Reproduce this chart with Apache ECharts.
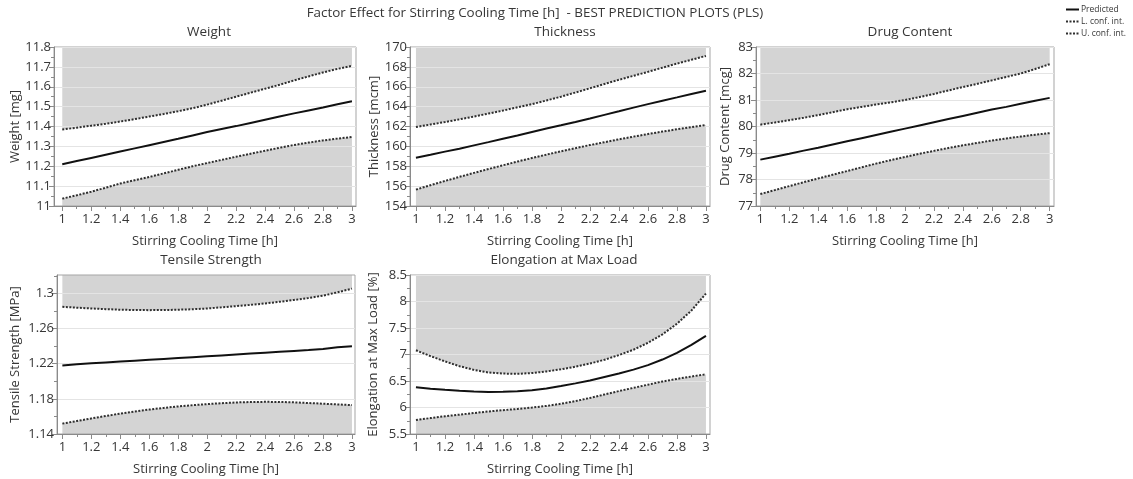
<!DOCTYPE html>
<html>
<head>
<meta charset="utf-8">
<title>Factor Effect for Stirring Cooling Time</title>
<script src="https://cdn.jsdelivr.net/npm/echarts@6.0.0/dist/echarts.min.js"></script>
<style>
  html, body { margin: 0; padding: 0; background: #ffffff; }
  #chart { width: 1133px; height: 479px; }
</style>
</head>
<body>
<div id="chart"></div>
<script>
// Stirring cooling time (h) at which every response is evaluated
const timeH = [1.0, 1.1, 1.2, 1.3, 1.4, 1.5, 1.6, 1.7, 1.8, 1.9, 2.0, 2.1, 2.2, 2.3, 2.4, 2.5, 2.6, 2.7, 2.8, 2.9, 3.0];

// Weight [mg]
const weightPred  = [11.21, 11.226, 11.242, 11.258, 11.274, 11.29, 11.306, 11.322, 11.338, 11.355, 11.372, 11.387, 11.402, 11.418, 11.434, 11.45, 11.466, 11.481, 11.496, 11.512, 11.527];
const weightUpper = [11.385, 11.394, 11.404, 11.414, 11.425, 11.437, 11.45, 11.463, 11.477, 11.492, 11.51, 11.53, 11.55, 11.57, 11.59, 11.61, 11.632, 11.652, 11.672, 11.69, 11.705];
const weightLower = [11.037, 11.054, 11.072, 11.092, 11.113, 11.13, 11.146, 11.164, 11.182, 11.2, 11.216, 11.232, 11.248, 11.263, 11.278, 11.293, 11.307, 11.319, 11.33, 11.339, 11.347];

// Thickness [mcm]
const thickPred  = [158.85, 159.15, 159.47, 159.77, 160.1, 160.43, 160.77, 161.1, 161.45, 161.8, 162.12, 162.45, 162.8, 163.17, 163.53, 163.9, 164.25, 164.6, 164.93, 165.27, 165.6];
const thickUpper = [161.95, 162.2, 162.45, 162.72, 163.0, 163.3, 163.6, 163.93, 164.25, 164.62, 165.0, 165.42, 165.85, 166.28, 166.7, 167.1, 167.5, 167.92, 168.33, 168.72, 169.1];
const thickLower = [155.65, 156.09, 156.52, 156.93, 157.33, 157.72, 158.1, 158.47, 158.83, 159.17, 159.5, 159.82, 160.13, 160.42, 160.71, 160.98, 161.24, 161.49, 161.72, 161.94, 162.15];

// Drug Content [mcg]
const drugPred  = [78.75, 78.86, 78.97, 79.09, 79.2, 79.32, 79.44, 79.56, 79.68, 79.8, 79.92, 80.04, 80.16, 80.28, 80.4, 80.52, 80.64, 80.74, 80.86, 80.97, 81.08];
const drugUpper = [80.07, 80.15, 80.24, 80.33, 80.43, 80.54, 80.65, 80.74, 80.83, 80.91, 81.0, 81.11, 81.23, 81.36, 81.49, 81.61, 81.74, 81.87, 82.0, 82.17, 82.35];
const drugLower = [77.45, 77.6, 77.75, 77.9, 78.04, 78.18, 78.32, 78.46, 78.6, 78.73, 78.85, 78.97, 79.08, 79.19, 79.29, 79.38, 79.47, 79.55, 79.62, 79.69, 79.75];

// Tensile Strength [MPa]
const tensilePred  = [1.218, 1.2195, 1.2205, 1.2215, 1.2225, 1.2235, 1.2245, 1.2255, 1.2265, 1.2275, 1.2285, 1.2295, 1.2305, 1.2315, 1.2325, 1.2335, 1.2345, 1.2355, 1.2368, 1.2388, 1.2398];
const tensileUpper = [1.2848, 1.2838, 1.2829, 1.2821, 1.2815, 1.2811, 1.281, 1.2811, 1.2815, 1.282, 1.2829, 1.2842, 1.2856, 1.287, 1.2886, 1.2905, 1.2926, 1.2948, 1.2975, 1.3013, 1.3055];
const tensileLower = [1.1518, 1.1548, 1.1577, 1.1605, 1.1632, 1.1656, 1.1678, 1.1697, 1.1714, 1.1728, 1.174, 1.1751, 1.1759, 1.1764, 1.1766, 1.1765, 1.176, 1.1753, 1.1745, 1.1737, 1.1729];

// Elongation at Max Load [%]
const elongPred  = [6.38, 6.355, 6.335, 6.318, 6.303, 6.292, 6.295, 6.305, 6.325, 6.36, 6.405, 6.455, 6.51, 6.575, 6.64, 6.715, 6.8, 6.905, 7.03, 7.18, 7.35];
const elongUpper = [7.08, 6.97, 6.87, 6.78, 6.71, 6.66, 6.64, 6.635, 6.65, 6.68, 6.72, 6.77, 6.83, 6.9, 6.99, 7.09, 7.22, 7.38, 7.58, 7.83, 8.15];
const elongLower = [5.765, 5.8, 5.835, 5.865, 5.895, 5.925, 5.95, 5.972, 5.998, 6.03, 6.07, 6.12, 6.18, 6.245, 6.31, 6.37, 6.43, 6.49, 6.54, 6.585, 6.625];

// Tick values
const xTicks = [1, 1.2, 1.4, 1.6, 1.8, 2, 2.2, 2.4, 2.6, 2.8, 3];
const xMinorTicks = [1.1, 1.3, 1.5, 1.7, 1.9, 2.1, 2.3, 2.5, 2.7, 2.9];
const weightTicks = [11, 11.1, 11.2, 11.3, 11.4, 11.5, 11.6, 11.7, 11.8];
const weightMinor = [11.05, 11.15, 11.25, 11.35, 11.45, 11.55, 11.65, 11.75];
const thickTicks = [154, 156, 158, 160, 162, 164, 166, 168, 170];
const thickMinor = [155, 157, 159, 161, 163, 165, 167, 169];
const drugTicks = [77, 78, 79, 80, 81, 82, 83];
const drugMinor = [77.5, 78.5, 79.5, 80.5, 81.5, 82.5];
const tensileTicks = [1.14, 1.18, 1.22, 1.26, 1.3];
const tensileMinor = [1.16, 1.2, 1.24, 1.28, 1.32];
const elongTicks = [5.5, 6, 6.5, 7, 7.5, 8, 8.5];
const elongMinor = [5.75, 6.25, 6.75, 7.25, 7.75, 8.25];

const mainTitle = 'Factor Effect for Stirring Cooling Time [h]  - BEST PREDICTION PLOTS (PLS)';
const xName = 'Stirring Cooling Time [h]';
const seriesNames = ['Predicted', 'L. conf. int.', 'U. conf. int.'];

const FONT = '"Open Sans", "Noto Sans", sans-serif';
const TEXT = '#363636';
const AXIS = '#8a8a8a';
const BAND = '#d4d4d4';
const LIMIT = '#2e2e2e';
const PRED = '#111111';

const panels = [
  { title: 'Weight', yName: 'Weight [mg]', pred: weightPred, upper: weightUpper, lower: weightLower,
    ticks: weightTicks, minor: weightMinor, yMin: 11, yMax: 11.8,
    rect: { left: 54, top: 47, width: 302, height: 159 }, xMin: 0.943, xMax: 3.028, nameGap: 29, titleAt: [209, 32] },
  { title: 'Thickness', yName: 'Thickness [mcm]', pred: thickPred, upper: thickUpper, lower: thickLower,
    ticks: thickTicks, minor: thickMinor, yMin: 154, yMax: 170,
    rect: { left: 410, top: 47, width: 300, height: 159 }, xMin: 0.959, xMax: 3.028, nameGap: 29, titleAt: [565, 32] },
  { title: 'Drug Content', yName: 'Drug Content [mcg]', pred: drugPred, upper: drugUpper, lower: drugLower,
    ticks: drugTicks, minor: drugMinor, yMin: 77, yMax: 83,
    rect: { left: 756, top: 47, width: 298, height: 159 }, xMin: 0.970, xMax: 3.03, nameGap: 24, titleAt: [910, 32] },
  { title: 'Tensile Strength', yName: 'Tensile Strength [MPa]', pred: tensilePred, upper: tensileUpper, lower: tensileLower,
    ticks: tensileTicks, minor: tensileMinor, yMin: 1.14, yMax: 1.321,
    rect: { left: 57, top: 275, width: 298, height: 159 }, xMin: 0.963, xMax: 3.021, nameGap: 35, titleAt: [211, 260] },
  { title: 'Elongation at Max Load', yName: 'Elongation at Max Load [%]', pred: elongPred, upper: elongUpper, lower: elongLower,
    ticks: elongTicks, minor: elongMinor, yMin: 5.5, yMax: 8.5,
    rect: { left: 410, top: 275, width: 300, height: 159 }, xMin: 0.959, xMax: 3.028, nameGap: 30, titleAt: [564, 260] }
];

const fmt = v => String(parseFloat(Number(v).toFixed(4)));
const pairs = ys => timeH.map((x, i) => [x, ys[i]]);

const grid = [], xAxis = [], yAxis = [], series = [];
const graphic = [{
  type: 'text', x: 535, y: 13,
  style: { text: mainTitle, font: '13.4px ' + FONT, fill: TEXT, textAlign: 'center', textVerticalAlign: 'middle' }
}];

panels.forEach((p, i) => {
  grid.push(Object.assign({ show: true, borderColor: '#a5a5a5', borderWidth: 1, z: 4, containLabel: false }, p.rect));
  graphic.push({
    type: 'text', x: p.titleAt[0], y: p.titleAt[1],
    style: { text: p.title, font: '13.5px ' + FONT, fill: TEXT, textAlign: 'center', textVerticalAlign: 'middle' }
  });

  // main x axis: labels, major ticks, axis name
  xAxis.push({
    type: 'value', gridIndex: i, position: 'bottom', min: p.xMin, max: p.xMax, z: 5,
    axisLine: { show: true, onZero: false, lineStyle: { color: AXIS, width: 1 } },
    axisTick: { show: true, length: 5, customValues: xTicks, lineStyle: { color: AXIS } },
    axisLabel: { customValues: xTicks, formatter: fmt, color: TEXT, fontSize: 13, fontFamily: FONT, margin: 7 },
    splitLine: { show: false },
    name: xName, nameLocation: 'middle', nameGap: 29,
    nameTextStyle: { color: TEXT, fontSize: 13, fontFamily: FONT }
  });
  // second x axis carrying only the minor ticks
  xAxis.push({
    type: 'value', gridIndex: i, position: 'bottom', min: p.xMin, max: p.xMax, z: 5,
    axisLine: { show: false },
    axisTick: { show: true, length: 3, customValues: xMinorTicks, lineStyle: { color: AXIS } },
    axisLabel: { show: false },
    splitLine: { show: false }
  });

  // main y axis: labels, major ticks, grid lines, axis name
  yAxis.push({
    type: 'value', gridIndex: i, position: 'left', min: p.yMin, max: p.yMax, z: 5,
    axisLine: { show: true, onZero: false, lineStyle: { color: AXIS, width: 1 } },
    axisTick: { show: true, length: 5, customValues: p.ticks, lineStyle: { color: AXIS } },
    axisLabel: { customValues: p.ticks, formatter: fmt, color: TEXT, fontSize: 13, fontFamily: FONT, margin: 3 },
    splitLine: { show: true, lineStyle: { color: '#e4e4e4', width: 1 } },
    name: p.yName, nameLocation: 'middle', nameGap: p.nameGap,
    nameTextStyle: { color: TEXT, fontSize: 13, fontFamily: FONT }
  });
  // second y axis carrying only the minor ticks
  yAxis.push({
    type: 'value', gridIndex: i, position: 'left', min: p.yMin, max: p.yMax, z: 5,
    axisLine: { show: false },
    axisTick: { show: true, length: 3, customValues: p.minor, lineStyle: { color: AXIS } },
    axisLabel: { show: false },
    splitLine: { show: false }
  });

  const xi = 2 * i, yi = 2 * i;
  // shaded regions outside the confidence band
  series.push({
    type: 'line', xAxisIndex: xi, yAxisIndex: yi, data: pairs(p.upper), symbol: 'none', silent: true, z: 1,
    lineStyle: { width: 0, opacity: 0 }, areaStyle: { origin: 'end', color: BAND, opacity: 1 }
  });
  series.push({
    type: 'line', xAxisIndex: xi, yAxisIndex: yi, data: pairs(p.lower), symbol: 'none', silent: true, z: 1,
    lineStyle: { width: 0, opacity: 0 }, areaStyle: { origin: 'start', color: BAND, opacity: 1 }
  });
  // confidence limits and prediction
  series.push({
    name: seriesNames[2], type: 'line', xAxisIndex: xi, yAxisIndex: yi, data: pairs(p.upper), symbol: 'none', z: 6,
    color: LIMIT, lineStyle: { color: LIMIT, width: 2, type: [2, 1.5] }
  });
  series.push({
    name: seriesNames[1], type: 'line', xAxisIndex: xi, yAxisIndex: yi, data: pairs(p.lower), symbol: 'none', z: 6,
    color: LIMIT, lineStyle: { color: LIMIT, width: 2, type: [2, 1.5] }
  });
  series.push({
    name: seriesNames[0], type: 'line', xAxisIndex: xi, yAxisIndex: yi, data: pairs(p.pred), symbol: 'none', z: 7,
    color: PRED, lineStyle: { color: PRED, width: 2 }
  });
});

const chart = echarts.init(document.getElementById('chart'), null, { renderer: 'canvas' });
chart.setOption({
  animation: false,
  backgroundColor: '#ffffff',
  textStyle: { fontFamily: FONT },
  grid, xAxis, yAxis, series, graphic,
  legend: {
    data: seriesNames, orient: 'vertical', left: 1060, top: 0,
    itemWidth: 13, itemHeight: 8, itemGap: 3, selectedMode: false,
    itemStyle: { opacity: 0 },
    textStyle: { fontSize: 8.5, color: TEXT, fontFamily: FONT, padding: [0, 0, 0, -3] }
  }
});
</script>
</body>
</html>
